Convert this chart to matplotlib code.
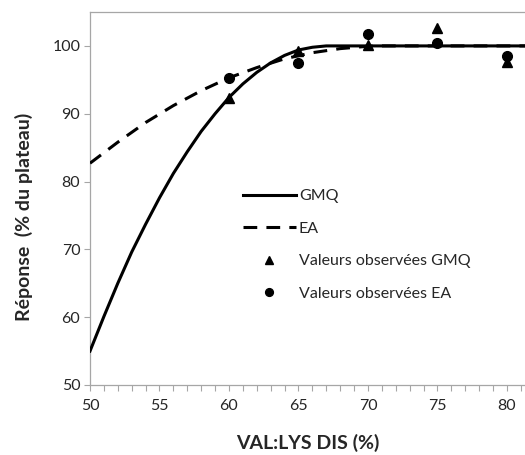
"""Réponse (% du plateau) selon le rapport VAL:LYS DIS"""
import matplotlib
matplotlib.use("Agg")
import matplotlib.pyplot as plt
from matplotlib.ticker import MultipleLocator

plt.rcParams['font.family'] = ['Lato', 'DejaVu Sans']

# Courbes ajustées
gmq_x = [50, 51, 52, 53, 54, 55, 56, 57, 58, 59, 60, 61, 62, 63, 64, 65, 66, 67, 81.3]
gmq_y = [55.0, 60.1, 65.0, 69.6, 73.7, 77.6, 81.2, 84.4, 87.4, 90.0, 92.4, 94.4,
         96.1, 97.5, 98.6, 99.4, 99.8, 100.0, 100.0]

ea_x = [50, 52, 54, 56, 58, 60, 62, 64, 66, 68, 70, 71, 81.3]
ea_y = [82.7, 85.8, 88.7, 91.2, 93.4, 95.3, 96.8, 98.1, 99.0, 99.6, 99.95, 100.0, 100.0]

# Valeurs observées
obs_x = [60, 65, 70, 75, 80]
obs_gmq = [92.3, 99.3, 100.2, 102.6, 97.6]
obs_ea = [95.3, 97.5, 101.7, 100.5, 98.5]

SPINE = '#a6a6a6'
TXT = '#262626'

fig = plt.figure(figsize=(5.25, 4.55), dpi=100)
ax = fig.add_axes([90 / 525, 1 - 385 / 455, 435 / 525, 373 / 455])

ax.plot(gmq_x, gmq_y, color='black', lw=2.2, label='GMQ', zorder=3)
ax.plot(ea_x, ea_y, color='black', lw=2.2, dashes=(4.5, 3), label='EA', zorder=3)
ax.plot(obs_x, obs_gmq, ls='none', marker='^', ms=7, color='black',
        label='Valeurs observées GMQ', zorder=4)
ax.plot(obs_x, obs_ea, ls='none', marker='o', ms=7, color='black',
        label='Valeurs observées EA', zorder=4)

ax.set_xlim(50, 81.3)
ax.set_ylim(50, 105)
ax.xaxis.set_major_locator(MultipleLocator(5))
ax.xaxis.set_minor_locator(MultipleLocator(1))
ax.set_yticks([50, 60, 70, 80, 90, 100])

ax.tick_params(which='both', direction='out', length=4, width=0.8, color=SPINE,
               labelsize=11.5, labelcolor=TXT)
ax.tick_params(axis='x', pad=6)
ax.tick_params(axis='y', pad=3)

ax.spines['right'].set_visible(False)
for s in ['left', 'bottom', 'top']:
    ax.spines[s].set_color(SPINE)
    ax.spines[s].set_linewidth(0.9)

ax.set_xlabel('VAL:LYS DIS (%)', fontsize=14, fontweight='bold', color=TXT)
ax.xaxis.set_label_coords(0.5, -0.13)
ax.set_ylabel('Réponse  (% du plateau)', fontsize=14, fontweight='bold', color=TXT)
ax.yaxis.set_label_coords(-0.13, 0.45)

# légende sans cadre, au milieu du graphique
ax.legend(loc='upper left', bbox_to_anchor=(243 / 525, 1 - 189 / 455),
          bbox_transform=fig.transFigure, frameon=False, fontsize=11.5,
          handlelength=3.3, handletextpad=0.2, labelspacing=1.15,
          borderpad=0, borderaxespad=0, labelcolor=TXT, markerscale=0.8)

fig.savefig('out.png', dpi=100)
